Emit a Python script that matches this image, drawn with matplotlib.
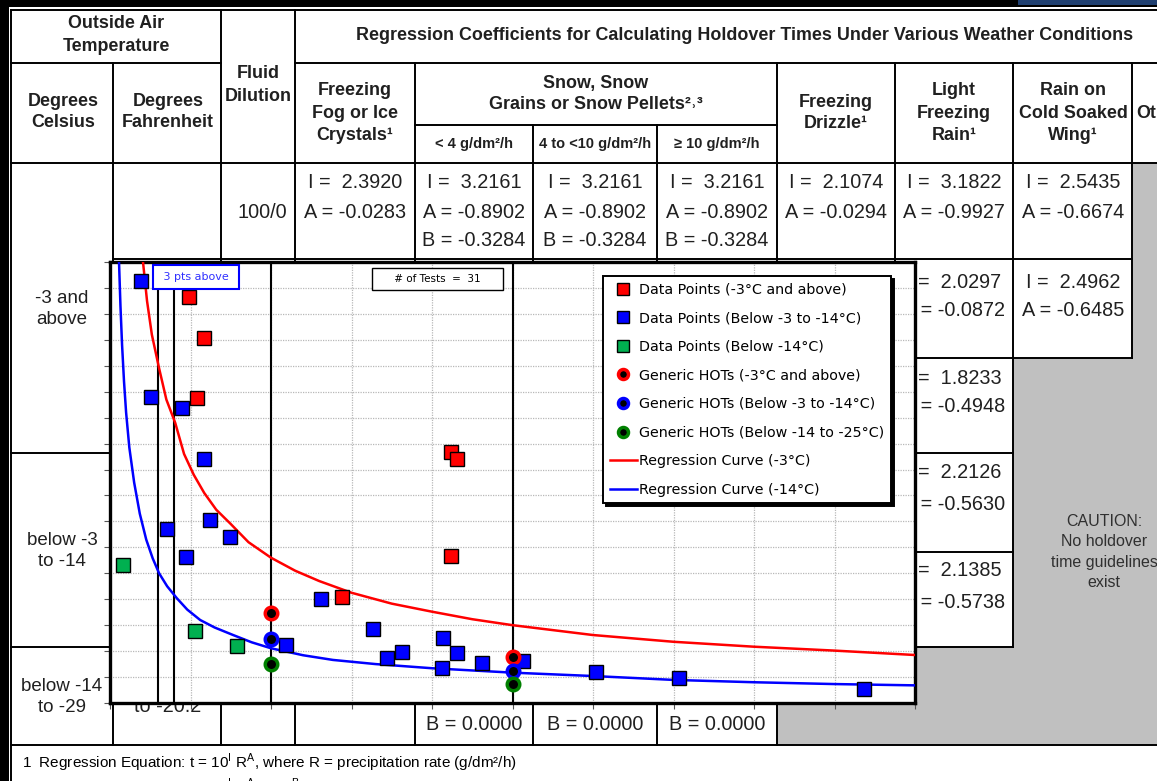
import matplotlib.pyplot as plt
from matplotlib.patches import Rectangle

plt.rcParams["font.family"] = ["Liberation Sans", "DejaVu Sans"]

# ---- chart data (x: precipitation rate, y: holdover time) ----
red_x = [4.9, 5.85, 5.4, 21.2, 21.55, 21.2, 14.4]
red_y = [156.5, 140.7, 117.6, 96.8, 94.1, 56.7, 40.9]

blue_x = [1.9, 2.55, 4.45, 5.85, 6.2, 3.55, 7.45, 4.7, 13.1, 10.95, 16.35,
          17.2, 18.15, 20.7, 21.55, 20.6, 23.1, 25.65, 30.2, 35.35, 46.85]
blue_y = [162.7, 118.0, 113.7, 94.1, 70.5, 67.1, 64.0, 56.3, 40.1, 22.4, 28.5,
          17.3, 19.7, 25.1, 19.3, 13.5, 15.4, 16.2, 12.0, 9.6, 5.4]

green_x = [0.8, 5.3, 7.9]
green_y = [53.2, 27.8, 22.0]

hot_x = [10, 25]
hot_red = [34.7, 17.7]
hot_blue = [24.7, 12.3]
hot_green = [15.0, 7.3]

curve_red_x = [2.05, 2.3, 2.6, 3.05, 3.5, 4.05, 4.6, 5.2, 5.85, 6.6, 7.5, 8.6, 10, 11.5,
               13, 15, 17.5, 20, 22.5, 25, 30, 35, 40, 45, 50]
curve_red_y = [170, 155, 142, 129, 117, 108, 96, 88, 81, 74.5, 69, 62, 56, 51,
               47, 42.5, 38.3, 35.2, 32.3, 30.0, 26.2, 23.6, 21.7, 20.2, 18.5]

curve_blue_x = [0.56, 0.65, 0.75, 0.87, 1.0, 1.2, 1.5, 1.85, 2.25, 2.65, 3.05, 3.55, 4.15,
                4.8, 5.6, 6.5, 7.65, 8.8, 10, 12, 13.85, 16.5, 20, 25, 30, 35, 40, 45, 50]
curve_blue_y = [170, 153, 138, 124, 112, 98.5, 85, 73, 63, 55.8, 50, 45, 40.4,
                36, 32, 29.1, 26.2, 23.4, 21.1, 18.4, 16.6, 15.0, 13.4, 11.7, 10.4, 8.9, 8.0, 7.3, 6.8]

limit_lines = [3, 4, 10, 25]
n_tests = 31

# ---- table content ----
coef_x = [355, 474, 595, 717, 836, 954, 1073]
row1 = [["I =  2.3920", "A = -0.0283"],
        ["I =  3.2161", "A = -0.8902", "B = -0.3284"],
        ["I =  3.2161", "A = -0.8902", "B = -0.3284"],
        ["I =  3.2161", "A = -0.8902", "B = -0.3284"],
        ["I =  2.1074", "A = -0.0294"],
        ["I =  3.1822", "A = -0.9927"],
        ["I =  2.5435", "A = -0.6674"]]
lfr_rows = [("I =  2.0297", "A = -0.0872"), ("I =  1.8233", "A = -0.4948"),
            ("I =  2.2126", "A = -0.5630"), ("I =  2.1385", "A = -0.5738")]
lfr_y = [(282, 311), (378, 407), (473, 505), (570, 602)]

fig = plt.figure(figsize=(11.57, 7.81), dpi=100)

# background table drawn in pixel coordinates
bg = fig.add_axes([0, 0, 1, 1])
bg.set_xlim(0, 1157)
bg.set_ylim(781, 0)
bg.axis("off")

gray = "#c0c0c0"
bg.add_patch(Rectangle((1132, 163), 30, 195, color=gray, lw=0))
bg.add_patch(Rectangle((1013, 358), 150, 387, color=gray, lw=0))
bg.add_patch(Rectangle((777, 647), 390, 98, color=gray, lw=0))
bg.add_patch(Rectangle((0, 0), 1157, 7, color="black", lw=0))
bg.add_patch(Rectangle((1018, 0), 139, 5, color="#1f3f70", lw=0))
bg.add_patch(Rectangle((0, 0), 9, 781, color="black", lw=0))

lw = 1.4
def hline(y, x0, x1):
    bg.plot([x0, x1], [y, y], color="black", lw=lw)

def vline(x, y0, y1):
    bg.plot([x, x], [y0, y1], color="black", lw=lw)

hline(10, 11, 1157)
hline(63, 11, 221)
hline(63, 295, 1157)
hline(125, 415, 777)
hline(163, 11, 1157)
hline(259, 113, 1132)
hline(358, 895, 1132)
hline(453, 11, 110)
hline(453, 895, 1013)
hline(552, 895, 1013)
hline(647, 11, 110)
hline(647, 777, 1013)
hline(745, 11, 1157)

vline(11, 10, 781)
vline(113, 63, 745)
vline(221, 10, 745)
vline(295, 10, 745)
vline(415, 63, 745)
vline(533, 125, 745)
vline(657, 125, 745)
vline(777, 63, 745)
vline(895, 63, 647)
vline(1013, 63, 647)
vline(1132, 63, 358)

hd = dict(ha="center", va="center", fontsize=12.9, fontweight="bold", color="#202020")
bg.text(116, 35, "Outside Air\nTemperature", linespacing=1.45, **hd)
bg.text(63, 112, "Degrees\nCelsius", linespacing=1.38, **hd)
bg.text(168, 112, "Degrees\nFahrenheit", linespacing=1.38, **hd)
bg.text(258, 85, "Fluid\nDilution", linespacing=1.4, **hd)
bg.text(355, 113, "Freezing\nFog or Ice\nCrystals¹", linespacing=1.42, **hd)
bg.text(596, 94, "Snow, Snow\nGrains or Snow Pellets²˒³", linespacing=1.32, **hd)
bg.text(745, 36, "Regression Coefficients for Calculating Holdover Times Under Various Weather Conditions", **hd)
bg.text(836, 113, "Freezing\nDrizzle¹", linespacing=1.38, **hd)
bg.text(954, 113, "Light\nFreezing\nRain¹", linespacing=1.42, **hd)
bg.text(1073, 113, "Rain on\nCold Soaked\nWing¹", linespacing=1.42, **hd)
bg.text(1136, 114, "Ot", ha="left", va="center", fontsize=12.9, fontweight="bold", color="#202020")
sub = dict(ha="center", va="center", fontsize=10.5, fontweight="bold", color="#202020")
bg.text(474, 144, "< 4 g/dm²/h", **sub)
bg.text(595, 144, "4 to <10 g/dm²/h", **sub)
bg.text(717, 144, "≥ 10 g/dm²/h", **sub)

vt = dict(ha="center", va="center", fontsize=14.3, color="#202020")
bg.text(262, 213, "100/0", **vt)
for cx, lines in zip(coef_x, row1):
    for k, s in enumerate(lines):
        bg.text(cx, 183 + 29 * k, s, **vt)
for (s1, s2), (y1, y2) in zip(lfr_rows, lfr_y):
    bg.text(954, y1, s1, **vt)
    bg.text(954, y2, s2, **vt)
bg.text(1073, 282, "I =  2.4962", **vt)
bg.text(1073, 311, "A = -0.6485", **vt)
for cx in [474, 595, 717]:
    bg.text(cx, 724, "B = 0.0000", **vt)
bg.text(168, 707, "to -20.2", **vt)

lt = dict(ha="center", va="center", fontsize=13.5, color="#202020", linespacing=1.35)
bg.text(62, 309, "-3 and\nabove", **lt)
bg.text(62, 551, "below -3\nto -14", **lt)
bg.text(62, 697, "below -14\nto -29", **lt)
bg.text(1104, 552, "CAUTION:\nNo holdover\ntime guidelines\nexist", ha="center", va="center",
        fontsize=11.5, color="#303030", linespacing=1.45)

bg.text(22, 763, r"1  Regression Equation: t = 10$^{\mathregular{I}}$ R$^{\mathregular{A}}$, "
        "where R = precipitation rate (g/dm²/h)", ha="left", va="center", fontsize=11)
bg.text(22, 788, r"2  Regression Equation: t = 10$^{\mathregular{I}}$ R$^{\mathregular{A}}$ "
        r"(2-T)$^{\mathregular{B}}$, where R = precipitation rate (g/dm²/h) and T = temperature (in °C)",
        ha="left", va="center", fontsize=11)

# ---- overlaid chart ----
ax = fig.add_axes([110 / 1157, 78 / 781, 805 / 1157, 441 / 781])
ax.set_facecolor("white")
ax.set_xlim(0, 50)
ax.set_ylim(0, 170)
ax.set_xticks(range(0, 51, 5))
ax.set_yticks(range(0, 171, 10))
ax.grid(True, color="#b8b8b8", linestyle=(0, (1, 1)), lw=0.9)
ax.tick_params(direction="out", length=4, labelleft=False, labelbottom=False, color="#555555")
for sp in ax.spines.values():
    sp.set_linewidth(2.4)
    sp.set_color("black")

for xv in limit_lines:
    ax.axvline(xv, color="black", lw=1.5, zorder=2)

c1, = ax.plot(curve_red_x, curve_red_y, color="red", lw=1.8, zorder=3, label="Regression Curve (-3°C)")
c2, = ax.plot(curve_blue_x, curve_blue_y, color="blue", lw=1.8, zorder=3, label="Regression Curve (-14°C)")

sq = dict(marker="s", ms=10, mec="black", mew=1, ls="none", zorder=4)
h1, = ax.plot(red_x, red_y, mfc="red", label="Data Points (-3°C and above)", **sq)
h2, = ax.plot(blue_x, blue_y, mfc="blue", label="Data Points (Below -3 to -14°C)", **sq)
h3, = ax.plot(green_x, green_y, mfc="#00b050", label="Data Points (Below -14°C)", **sq)

ci = dict(marker="o", ms=9, mfc="black", mew=2.5, ls="none", zorder=5)
h4, = ax.plot(hot_x, hot_red, mec="red", label="Generic HOTs (-3°C and above)", **ci)
h5, = ax.plot(hot_x, hot_blue, mec="blue", label="Generic HOTs (Below -3 to -14°C)", **ci)
h6, = ax.plot(hot_x, hot_green, mec="#008000", label="Generic HOTs (Below -14 to -25°C)", **ci)

leg = ax.legend(handles=[h1, h2, h3, h4, h5, h6, c1, c2], loc="upper right",
                bbox_to_anchor=(0.970, 0.968),
                prop={"family": "DejaVu Sans", "size": 10.3}, labelspacing=1.02,
                handlelength=1.9, handletextpad=0.15, borderpad=0.45, borderaxespad=0,
                markerscale=0.8, fancybox=False, framealpha=1, edgecolor="black",
                shadow={"color": "black", "alpha": 1})
leg.get_frame().set_linewidth(1.4)

ax.text(0.407, 0.961, "     # of Tests  =  " + str(n_tests) + "     ", transform=ax.transAxes,
        ha="center", va="center", fontsize=7.5, family="DejaVu Sans",
        bbox=dict(boxstyle="square,pad=0.55", fc="white", ec="black", lw=1), zorder=6)
ax.text(0.107, 0.966, " 3 pts above ", transform=ax.transAxes, ha="center", va="center",
        fontsize=8, color="#3030ff", family="DejaVu Sans",
        bbox=dict(boxstyle="square,pad=0.6", fc="white", ec="blue", lw=1.5), zorder=6)

plt.savefig("out.png", dpi=100)
